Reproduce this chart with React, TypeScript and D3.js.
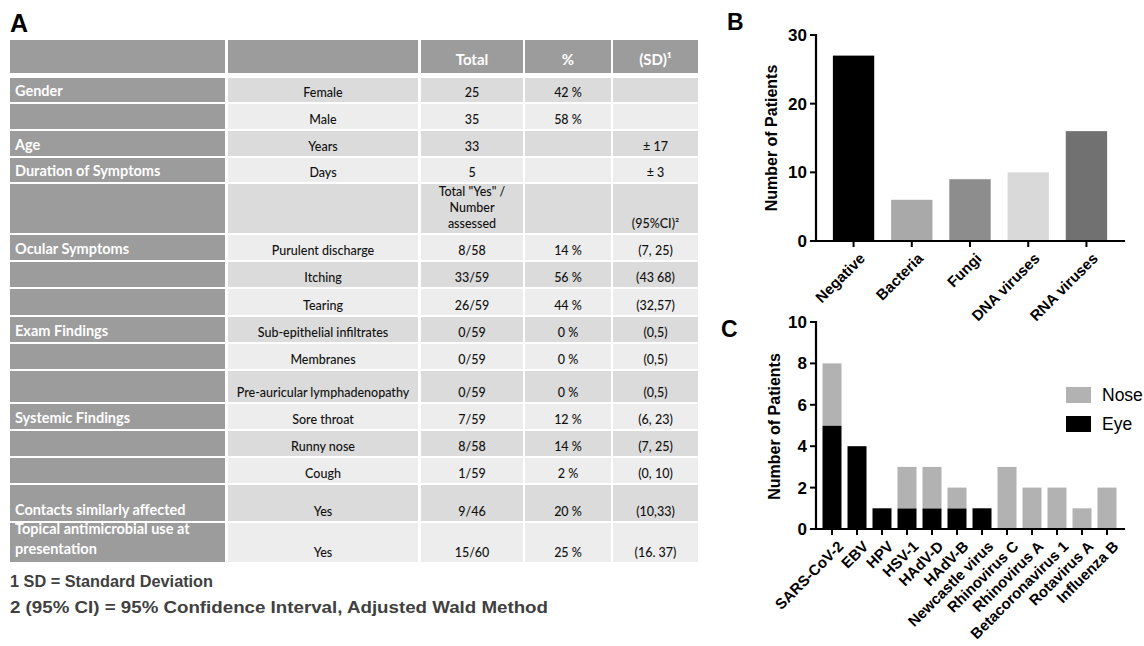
import React from "react";
import * as d3 from "d3";

// ---- Table (panel A) ----
const tableHeader = ["", "", "Total", "%", "(SD)¹"];
const rowGroups = [
  "Gender", "", "Age", "Duration of Symptoms", "", "Ocular Symptoms", "", "",
  "Exam Findings", "", "", "Systemic Findings", "", "",
  "Contacts similarly affected", "Topical antimicrobial use at|presentation",
];
const rowItems = [
  "Female", "Male", "Years", "Days", "", "Purulent discharge", "Itching", "Tearing",
  "Sub-epithelial infiltrates", "Membranes", "Pre-auricular lymphadenopathy",
  "Sore throat", "Runny nose", "Cough", "Yes", "Yes",
];
const rowTotals = [
  "25", "35", "33", "5", 'Total "Yes" /|Number|assessed', "8/58", "33/59", "26/59",
  "0/59", "0/59", "0/59", "7/59", "8/58", "1/59", "9/46", "15/60",
];
const rowPercents = [
  "42 %", "58 %", "", "", "", "14 %", "56 %", "44 %", "0 %", "0 %", "0 %",
  "12 %", "14 %", "2 %", "20 %", "25 %",
];
const rowStats = [
  "", "", "± 17", "± 3", "(95%CI)²", "(7, 25)", "(43 68)", "(32,57)", "(0,5)",
  "(0,5)", "(0,5)", "(6, 23)", "(7, 25)", "(0, 10)", "(10,33)", "(16. 37)",
];
const footnotes = [
  "1 SD = Standard Deviation",
  "2 (95% CI) = 95% Confidence Interval, Adjusted Wald Method",
];

// ---- Panel B ----
const bCategories = ["Negative", "Bacteria", "Fungi", "DNA viruses", "RNA viruses"];
const bValues = [27, 6, 9, 10, 16];
const bTicks = [0, 10, 20, 30];

// ---- Panel C ----
const cCategories = [
  "SARS-CoV-2", "EBV", "HPV", "HSV-1", "HAdV-D", "HAdV-B", "Newcastle virus",
  "Rhinovirus C", "Rhinovirus A", "Betacoronavirus 1", "Rotavirus A", "Influenza B",
];
const eyeValues = [5, 4, 1, 1, 1, 1, 1, 0, 0, 0, 0, 0];
const noseValues = [3, 0, 0, 2, 2, 1, 0, 3, 2, 2, 1, 2];
const cTicks = [0, 2, 4, 6, 8, 10];
const cSeries = ["Eye", "Nose"];

// layout / style
const colEdges = [10, 228, 421, 525, 613];
const colWidths = [215, 190, 102, 86, 85];
const rowHeights = [24, 25, 25, 24, 49, 25, 25, 26, 25, 25, 31, 25, 25, 25, 36, 39];
const rowGap = 2;
const headerTop = 40;
const headerH = 33;
const bodyTop = 78;
const footWidths = [203, 538];
const darkCell = "#9c9c9c";
const cellA = "#dbdbdb";
const cellB = "#ededed";
const bColors = ["#000000", "#a9a9a9", "#8d8d8d", "#d9d9d9", "#717171"];
const cColors: Record<string, string> = { Eye: "#000000", Nose: "#b2b2b2" };

const tableFont = "Lato, 'Open Sans', sans-serif";
const chartFont = "'Liberation Sans', Arial, sans-serif";

function Table() {
  const tops: number[] = [];
  let y = bodyTop;
  rowHeights.forEach((h) => {
    tops.push(y);
    y += h + rowGap;
  });
  const cx = (c: number) => colEdges[c] + colWidths[c] / 2;

  return (
    <g>
      {/* header */}
      {tableHeader.map((t, c) => (
        <g key={"h" + c}>
          <rect x={colEdges[c]} y={headerTop} width={colWidths[c]} height={headerH} fill={darkCell} />
          {t && (
            <text x={cx(c)} y={headerTop + headerH - 8} textAnchor="middle" fill="#fff"
              fontWeight={700} fontSize={15} fontFamily={tableFont}>{t}</text>
          )}
        </g>
      ))}
      {rowHeights.map((h, r) => {
        const top = tops[r];
        const bottom = top + h;
        const fill = r % 2 === 0 ? cellA : cellB;
        const cells = [rowItems[r], rowTotals[r], rowPercents[r], rowStats[r]];
        const groupLines = rowGroups[r] ? rowGroups[r].split("|") : [];
        return (
          <g key={"r" + r}>
            <rect x={colEdges[0]} y={top} width={colWidths[0]} height={h} fill={darkCell} />
            {groupLines.map((ln, i) => (
              <text key={i} x={15} y={bottom - 6 - (groupLines.length - 1 - i) * 20 - (groupLines.length > 1 ? 2 : 0)}
                fill="#fff" fontWeight={700} fontSize={14.5} fontFamily={tableFont}>{ln}</text>
            ))}
            {cells.map((t, i) => {
              const c = i + 1;
              const lines = t ? t.split("|") : [];
              return (
                <g key={c}>
                  <rect x={colEdges[c]} y={top} width={colWidths[c]} height={h} fill={fill} />
                  {lines.map((ln, j) => (
                    <text key={j} x={cx(c)} y={bottom - 5 - (lines.length - 1 - j) * 16}
                      textAnchor="middle" fill="#111" fontSize={12.5} fontWeight={500}
                      fontFamily={tableFont}>{ln}</text>
                  ))}
                </g>
              );
            })}
          </g>
        );
      })}
      {footnotes.map((f, i) => (
        <text key={f} x={10} y={587 + i * 26} fill="#404040" fontSize={17} fontWeight={700}
          textLength={footWidths[i]} lengthAdjust="spacingAndGlyphs"
          fontFamily={chartFont}>{f}</text>
      ))}
    </g>
  );
}

function PanelB() {
  const x0 = 816, x1 = 1124, yTop = 35, yBot = 241;
  const x = d3.scaleBand<string>().domain(bCategories).range([x0, x1]).paddingInner(0.29).paddingOuter(0.29);
  const y = d3.scaleLinear().domain([0, 30]).range([yBot, yTop]);
  return (
    <g fontFamily={chartFont}>
      {bCategories.map((c, i) => (
        <rect key={c} x={x(c)} y={y(bValues[i])} width={x.bandwidth()} height={y(0) - y(bValues[i])}
          fill={bColors[i]} />
      ))}
      <line x1={x0} x2={x0} y1={y(30) - 1} y2={y(0)} stroke="#000" strokeWidth={2.2} />
      <line x1={x0 - 1} x2={x1 + 1} y1={y(0)} y2={y(0)} stroke="#000" strokeWidth={2.2} />
      {bTicks.map((t) => (
        <g key={t}>
          <line x1={x0 - 6} x2={x0} y1={y(t)} y2={y(t)} stroke="#000" strokeWidth={2} />
          <text x={x0 - 9} y={y(t)} dy="0.35em" textAnchor="end" fontSize={17} fontWeight={700}>{t}</text>
        </g>
      ))}
      {bCategories.map((c) => {
        const cx = (x(c) as number) + x.bandwidth() / 2;
        return (
          <g key={c}>
            <line x1={cx} x2={cx} y1={y(0)} y2={y(0) + 6} stroke="#000" strokeWidth={2} />
            <text transform={`translate(${cx + 5},${y(0) + 11}) rotate(-45)`} textAnchor="end"
              dy="0.7em" fontSize={15} fontWeight={700}>{c}</text>
          </g>
        );
      })}
      <text transform={`translate(777,${(yTop + yBot) / 2}) rotate(-90)`} textAnchor="middle"
        fontSize={16} fontWeight={700}>Number of Patients</text>
    </g>
  );
}

function PanelC() {
  const x0 = 816, x1 = 1125, yTop = 322, yBot = 529;
  const x = d3.scaleBand<string>().domain(cCategories).range([815, 1124]).paddingInner(0.24).paddingOuter(0.3);
  const y = d3.scaleLinear().domain([0, 10]).range([yBot, yTop]);
  const rows = cCategories.map((c, i) => ({ name: c, Eye: eyeValues[i], Nose: noseValues[i] }));
  const stack = d3.stack<any>().keys(cSeries)(rows);
  return (
    <g fontFamily={chartFont}>
      {stack.map((s) => (
        <g key={s.key} fill={cColors[s.key]}>
          {s.map((d, i) =>
            d[1] > d[0] ? (
              <rect key={i} x={x(d.data.name)} y={y(d[1])} width={x.bandwidth()} height={y(d[0]) - y(d[1])} />
            ) : null
          )}
        </g>
      ))}
      <line x1={x0} x2={x0} y1={y(10) - 1} y2={y(0)} stroke="#000" strokeWidth={2.2} />
      <line x1={x0 - 1} x2={x1} y1={y(0)} y2={y(0)} stroke="#000" strokeWidth={2.2} />
      {cTicks.map((t) => (
        <g key={t}>
          <line x1={x0 - 6} x2={x0} y1={y(t)} y2={y(t)} stroke="#000" strokeWidth={2} />
          <text x={x0 - 9} y={y(t)} dy="0.35em" textAnchor="end" fontSize={17} fontWeight={700}>{t}</text>
        </g>
      ))}
      {cCategories.map((c) => {
        const cx = (x(c) as number) + x.bandwidth() / 2;
        return (
          <g key={c}>
            <line x1={cx} x2={cx} y1={y(0)} y2={y(0) + 6} stroke="#000" strokeWidth={2} />
            <text transform={`translate(${cx + 5},${y(0) + 11}) rotate(-45)`} textAnchor="end"
              dy="0.7em" fontSize={15} fontWeight={700}>{c}</text>
          </g>
        );
      })}
      <text transform={`translate(780,${(yTop + yBot) / 2 + 1}) rotate(-90)`} textAnchor="middle"
        fontSize={16} fontWeight={700}>Number of Patients</text>
      {["Nose", "Eye"].map((k, i) => (
        <g key={k} transform={`translate(1066,${387 + i * 29})`}>
          <rect width={25} height={16} fill={cColors[k]} />
          <text x={36} y={8} dy="0.36em" fontSize={17.5}>{k}</text>
        </g>
      ))}
    </g>
  );
}

export default function App() {
  return (
    <svg width={1144} height={646} style={{ position: "absolute", left: 0, top: 0, background: "#fff" }}>
      <rect width={1144} height={646} fill="#fff" />
      <g fontFamily={chartFont} fontWeight={700} fill="#000">
        <text x={10} y={32} fontSize={25}>A</text>
        <text x={727} y={30} fontSize={23}>B</text>
        <text x={721} y={337} fontSize={23}>C</text>
      </g>
      <Table />
      <PanelB />
      <PanelC />
    </svg>
  );
}
